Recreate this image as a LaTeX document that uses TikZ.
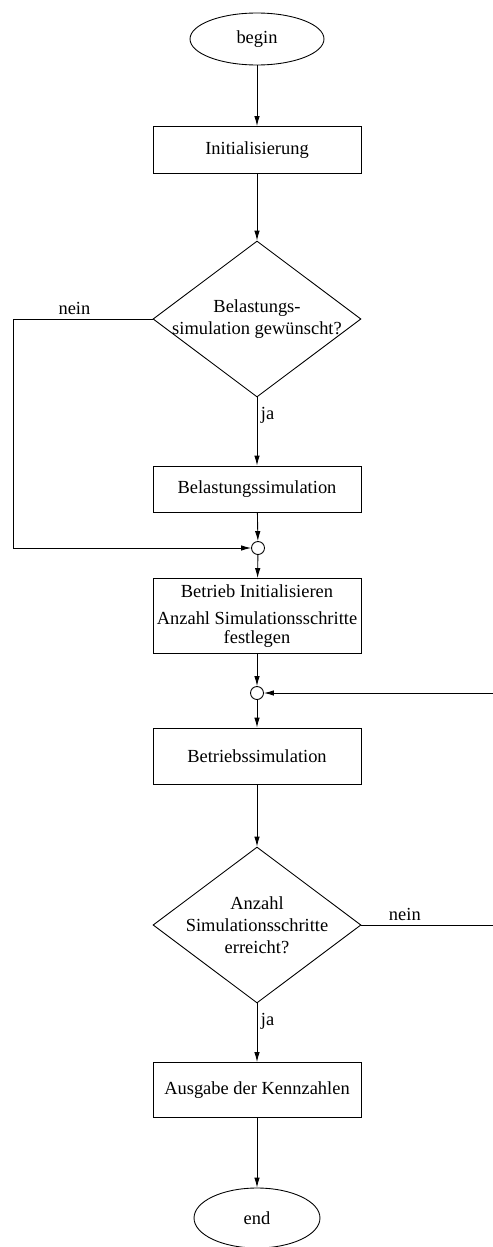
\documentclass[tikz,border=0pt]{standalone}
\usepackage{fontspec}
\setmainfont{Liberation Serif}
\usepackage{tikz}
\usetikzlibrary{shapes.geometric,arrows.meta}
\tikzset{
	block/.style={draw, line width=0.5pt, minimum width=4.16cm, minimum height=0.94cm, align=center, inner sep=1pt},
	terminal/.style={draw, ellipse, line width=0.5pt, minimum width=2.68cm, minimum height=1.04cm},
	decision/.style={draw, diamond, line width=0.5pt, shape aspect=1.33, minimum width=4.16cm, minimum height=3.12cm, inner xsep=-6pt, inner ysep=0pt, align=center},
	junction/.style={draw, circle, line width=0.5pt, minimum size=0.26cm, inner sep=0pt},
	arr/.style={line width=0.5pt, -{Latex[length=2mm,width=1.1mm]}},
	lbl/.style={inner sep=2pt}
}

\begin{document}
\begin{tikzpicture}[x=0.02cm, y=-0.02cm, font=\fontsize{10.5}{12.5}\selectfont]
				%%%%% START %%%%%
				\useasboundingbox (0,0) rectangle (493,1247);
				
				\node[terminal] (begin) at (257,39) {begin};
				\node[block] (init) at (257,150) {Initialisierung};
				\node[decision] (belq) at (257,319) {Belastungs-\\simulation gewünscht?};
				\node[block, minimum height=0.92cm] (belsim) at (257,489) {Belastungssimulation};
				\node[junction] (j1) at (258,548) {};
				\node[block, minimum height=1.5cm] (betinit) at (257,616) {Betrieb Initialisieren\\[3pt]Anzahl Simulationsschritte\\[-1.5pt]festlegen};
				\node[junction] (j2) at (257,693) {};
				\node[block, minimum height=1.12cm] (betsim) at (257,756) {Betriebssimulation};
				\node[decision] (anzq) at (257,925) {Anzahl\\Simulationsschritte\\erreicht?};
				\node[block, minimum height=1.1cm] (ausgabe) at (257,1090) {Ausgabe der Kennzahlen};
				\node[terminal, minimum width=2.52cm, minimum height=1.2cm] (end) at (257,1218) {end};
				
				\coordinate (lloop) at (13,319);
				\coordinate (rloop) at (493,925);
				
				\draw[arr] (begin) -- (init);
				\draw[arr] (init) -- (belq);
				\draw[arr] (belq.south) -- node[pos=0.27, right, lbl] {ja} (belsim);
				\draw[arr] (belq.west) -- node[pos=0.56, above, lbl] {nein} (lloop) |- (j1);
				\draw[arr] (belsim) -- (j1);
				\draw[arr] (j1) -- (betinit);
				\draw[arr] (betinit) -- (j2);
				\draw[arr] (j2) -- (betsim);
				\draw[arr] (betsim) -- (anzq);
				\draw[arr] (anzq.east) -- node[pos=0.33, above, lbl] {nein} (rloop) |- (j2);
				\draw[arr] (anzq.south) -- node[pos=0.3, right, lbl] {ja} (ausgabe);
				\draw[arr] (ausgabe) -- (end);
				%%%%% END %%%%%
\end{tikzpicture}
\end{document}
